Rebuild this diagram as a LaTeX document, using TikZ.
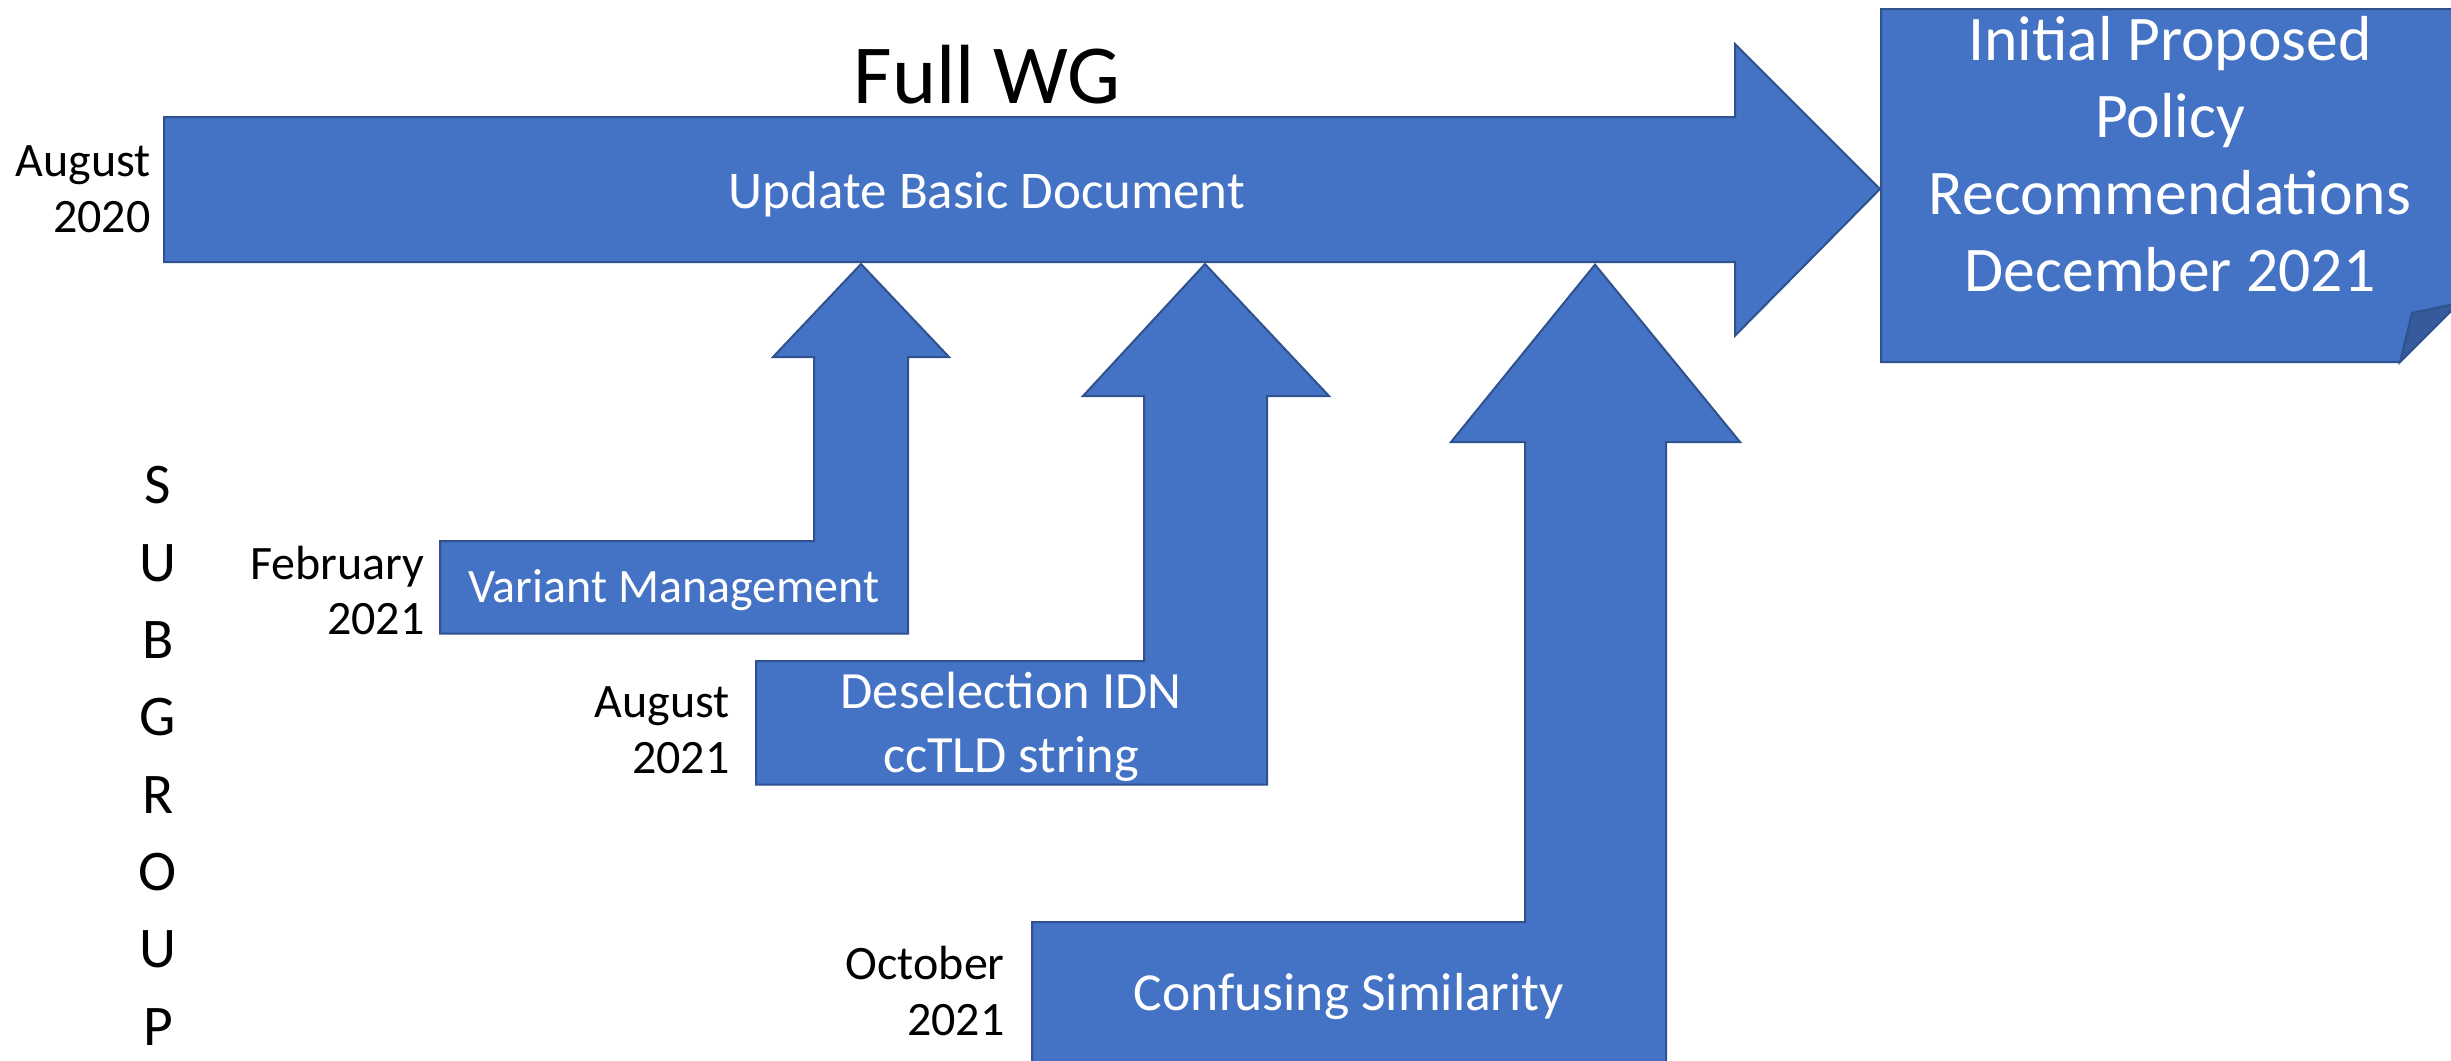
\documentclass[tikz,border=0pt]{standalone}
\usepackage{fontspec}
\setmainfont{Carlito}
\definecolor{ofblue}{HTML}{4472C4}
\definecolor{ofedge}{HTML}{2F528F}
\definecolor{offold}{HTML}{365B9D}
\begin{document}
\begin{tikzpicture}[x=0.5pt,y=-0.5pt,
  shp/.style={fill=ofblue, draw=ofedge, line width=1pt, line join=miter},
  wt/.style={text=white, inner sep=0pt},
  bk/.style={text=black, inner sep=0pt},
  datelbl/.style={bk, anchor=base east, align=right, font=\fontsize{24}{27.75}\selectfont}]
\useasboundingbox (0,0) rectangle (2451,1060);
% main arrow
\draw[shp] (164,117) -- (1735,117) -- (1735,44) -- (1880,189) -- (1735,335.7) -- (1735,262) -- (164,262) -- cycle;
% result box with folded corner
\draw[shp] (1881,9) -- (2459,9) -- (2459,303) -- (2400,362) -- (1881,362) -- cycle;
\draw[fill=offold, draw=ofedge, line width=1pt] (2400,362) -- (2412,313) -- (2459,303) -- cycle;
% variant management arrow
\draw[shp] (440,633.7) -- (908,633.7) -- (908,357) -- (949,357) -- (861,264) -- (773,357) -- (814,357) -- (814,541) -- (440,541) -- cycle;
% deselection arrow
\draw[shp] (756,784.6) -- (1267,784.6) -- (1267,396) -- (1329,396) -- (1205,264) -- (1083,396) -- (1144,396) -- (1144,661) -- (756,661) -- cycle;
% confusing similarity arrow
\draw[shp] (1032,1080) -- (1666,1080) -- (1666,442) -- (1740,442) -- (1595,264.6) -- (1451,442) -- (1525,442) -- (1525,922) -- (1032,922) -- cycle;
% texts
\node[bk, anchor=base, font=\fontsize{42}{49}\selectfont] (fullwg) at (987,103) {Full WG};
\node[wt, anchor=base, font=\fontsize{26.5}{31}\selectfont] (upd) at (987,208) {Update Basic Document};
\node[datelbl] (d2020) at (151,232) {August\\2020};
\node[wt, anchor=base, font=\fontsize{31.8}{38.6}\selectfont, align=center] (ipp) at (2170,291.7) {Initial Proposed\\Policy\\Recommendations\\December 2021};
\node[bk, anchor=base, font=\fontsize{28.75}{38.65}\selectfont, align=center] (subg) at (158,1045) {S\\U\\B\\G\\R\\O\\U\\P};
\node[wt, anchor=base, font=\fontsize{24}{28}\selectfont] (vm) at (674,602) {Variant Management};
\node[datelbl] (dfeb) at (425,634.5) {February\\2021};
\node[wt, anchor=base, align=center, font=\fontsize{26.2}{31.8}\selectfont] (desel) at (1011,772) {Deselection IDN\\ccTLD string};
\node[datelbl] (daug) at (730,773) {August\\2021};
\node[wt, anchor=base, font=\fontsize{26.75}{31}\selectfont] (conf) at (1349,1010) {Confusing Similarity};
\node[datelbl] (doct) at (1005,1035) {October\\2021};
\end{tikzpicture}
\end{document}
